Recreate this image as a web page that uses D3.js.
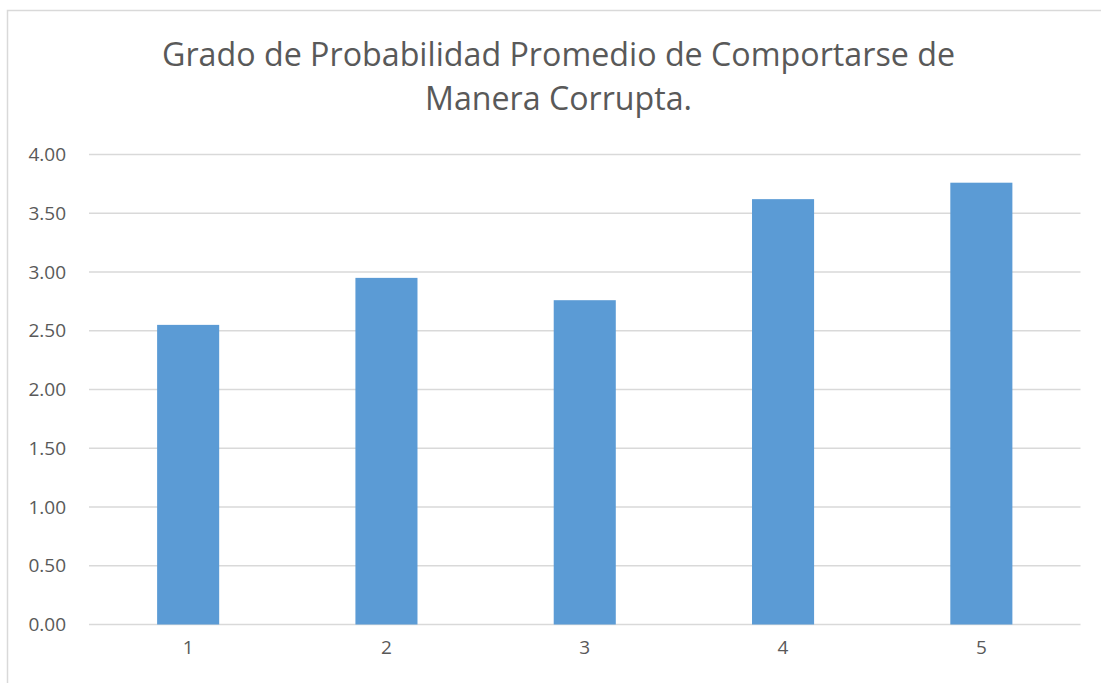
<!DOCTYPE html>
<html>
<head>
<meta charset="utf-8">
<script src="https://cdn.jsdelivr.net/npm/d3@7"></script>
<style>
  body { margin: 0; background: #fff; }
  svg { display: block; font-family: "Open Sans", sans-serif; }
</style>
</head>
<body>
<div class="chartdiv"></div>
<script>
// data
const categories = ['1', '2', '3', '4', '5']
const values = [2.55, 2.95, 2.76, 3.62, 3.76]
const yTicks = [0, 0.5, 1, 1.5, 2, 2.5, 3, 3.5, 4]
const titleLines = ['Grado de Probabilidad Promedio de Comportarse de', 'Manera Corrupta.']
const titleWidths = [793, 267]

const w = 1101, h = 683
const plotLeft = 89, plotRight = 1080.5, plotTop = 154.5, plotBottom = 624.5

let svg = d3.select('.chartdiv')
    .append('svg')
    .attr('width', w)
    .attr('height', h)

// chart frame (only the top and left edges are visible)
svg.append('rect')
    .attr('x', 7.5)
    .attr('y', 10.5)
    .attr('width', w + 20)
    .attr('height', h + 20)
    .style('fill', 'none')
    .style('stroke', '#d9d9d9')
    .style('stroke-width', 1.5)

// title
svg.append('g')
    .selectAll('text')
    .data(titleLines)
    .enter()
    .append('text')
    .attr('x', 558.5)
    .attr('y', (d, i) => 66 + i * 44)
    .attr('text-anchor', 'middle')
    .attr('textLength', (d, i) => titleWidths[i])
    .attr('lengthAdjust', 'spacingAndGlyphs')
    .style('font-size', '32px')
    .style('fill', '#595959')
    .text(d => d)

var xScale = d3.scaleBand()
    .domain(categories)
    .range([plotLeft, plotRight])
    .padding(0)

var yScale = d3.scaleLinear()
    .domain([0, 4])
    .range([plotBottom, plotTop])

// gridlines
svg.append('g')
    .selectAll('line')
    .data(yTicks)
    .enter()
    .append('line')
    .attr('x1', plotLeft)
    .attr('x2', plotRight)
    .attr('y1', d => yScale(d))
    .attr('y2', d => yScale(d))
    .style('stroke', '#d9d9d9')
    .style('stroke-width', 1.5)

// y axis labels
let yAxis = d3.axisLeft(yScale)
    .tickValues(yTicks)
    .tickFormat(d3.format('.2f'))
    .tickSize(0)
    .tickPadding(23)

let gy = svg.append('g')
    .attr('transform', 'translate(' + plotLeft + ',0)')
    .call(yAxis)
gy.select('.domain').remove()
gy.selectAll('text')
    .style('font-family', '"Open Sans", sans-serif')
    .style('font-size', '19px')
    .style('fill', '#595959')

// bars
let barW = xScale.bandwidth() * 0.313
svg.append('g')
    .selectAll('rect')
    .data(values)
    .enter()
    .append('rect')
    .attr('x', (d, i) => xScale(categories[i]) + (xScale.bandwidth() - barW) / 2)
    .attr('y', d => yScale(d))
    .attr('width', barW)
    .attr('height', d => yScale(0) - yScale(d))
    .style('fill', '#5b9bd5')

// x axis
let xAxis = d3.axisBottom(xScale)
    .tickSize(0)
    .tickPadding(16)

let gx = svg.append('g')
    .attr('transform', 'translate(0,' + plotBottom + ')')
    .call(xAxis)
gx.select('.domain').remove()
gx.selectAll('text')
    .style('font-family', '"Open Sans", sans-serif')
    .style('font-size', '19px')
    .style('fill', '#595959')
</script>
</body>
</html>
